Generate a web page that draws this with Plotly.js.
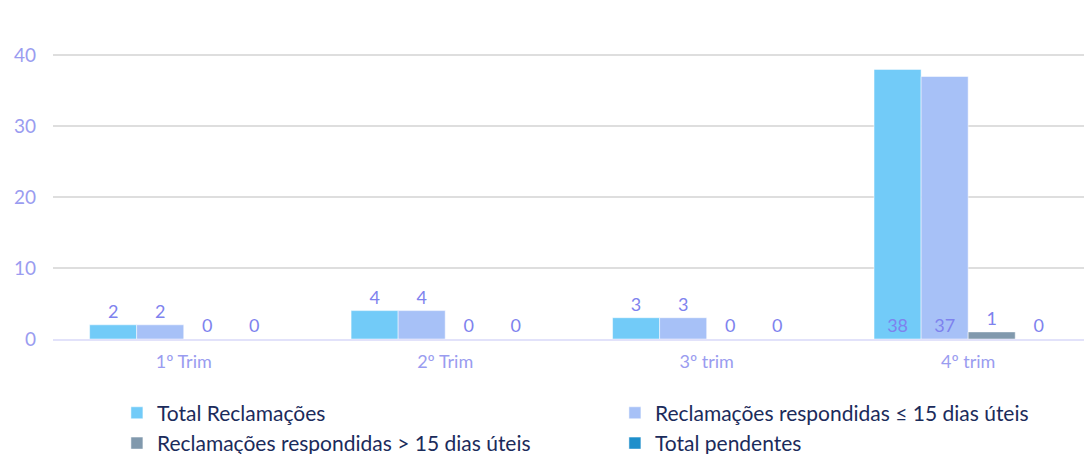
<!DOCTYPE html>
<html>
<head>
<meta charset="utf-8">
<script src="https://cdn.plot.ly/plotly-3.0.1.min.js"></script>
<style>html,body{margin:0;padding:0;background:#fff;}#chart{width:1084px;height:454px;}</style>
</head>
<body>
<div id="chart"></div>
<script>
const categories = ["1º Trim", "2º Trim", "3º trim", "4º trim"];
const seriesNames = ["Total Reclamações", "Reclamações respondidas ≤ 15 dias úteis", "Reclamações respondidas > 15 dias úteis", "Total pendentes"];
const totalReclamacoes = [2, 4, 3, 38];
const respondidasAte15 = [2, 4, 3, 37];
const respondidasMais15 = [0, 0, 0, 1];
const totalPendentes = [0, 0, 0, 0];
const seriesColors = ["#72CBF8", "#A7C1F7", "#8199AD", "#1E8FCB"];
const yTicks = [0, 10, 20, 30, 40];

const allSeries = [totalReclamacoes, respondidasAte15, respondidasMais15, totalPendentes];
const labelFont = {family: "Lato, 'Open Sans', sans-serif", size: 18, color: "#7E82EE"};

const traces = allSeries.map((vals, i) => ({
  type: "bar",
  name: seriesNames[i],
  x: categories,
  y: vals,
  text: vals.map(String),
  textposition: vals.map(v => v > 20 ? "inside" : "outside"),
  insidetextanchor: "start",
  textfont: labelFont,
  insidetextfont: labelFont,
  outsidetextfont: labelFont,
  cliponaxis: false,
  textangle: 0,
  marker: {color: seriesColors[i], line: {color: "rgba(255,255,255,0.5)", width: 1}},
  hoverinfo: "none"
}));

const layout = {
  width: 1084, height: 454,
  margin: {l: 53, r: 0, t: 41, b: 115, autoexpand: false},
  paper_bgcolor: "#fff", plot_bgcolor: "#fff",
  barmode: "group",
  bargap: 0.28,
  bargroupgap: 0,
  font: {family: "Lato, 'Open Sans', sans-serif"},
  xaxis: {
    type: "category",
    range: [-0.5, 3.443],
    showgrid: false,
    showline: true, linecolor: "#E2E2FA", linewidth: 2,
    ticks: "",
    ticklabelstandoff: 5,
    tickfont: {size: 18, color: "#9A9CF0"},
    fixedrange: true
  },
  yaxis: {
    range: [0, 42],
    tickvals: yTicks,
    ticktext: yTicks.map(String),
    showgrid: true, gridcolor: "#DEDEDE", gridwidth: 2,
    zeroline: false,
    showline: false,
    ticks: "",
    ticklabelstandoff: 16,
    tickfont: {size: 19, color: "#9A9CF0"},
    fixedrange: true
  },
  showlegend: true,
  legend: {
    orientation: "h",
    x: 0.062, xanchor: "left",
    y: -0.18, yanchor: "top",
    entrywidth: 453,
    traceorder: "normal",
    font: {size: 21, color: "#1B2B5B"},
    bgcolor: "rgba(0,0,0,0)"
  }
};

Plotly.newPlot("chart", traces, layout, {displayModeBar: false, staticPlot: true});
</script>
</body>
</html>
